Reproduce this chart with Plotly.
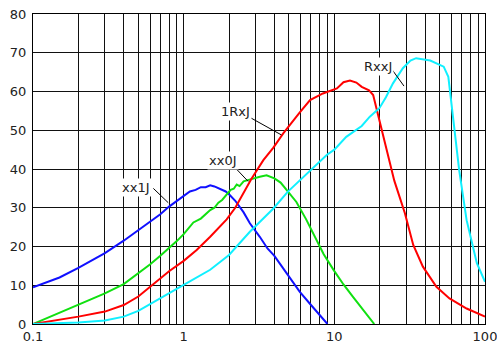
import plotly.graph_objects as go
import math

# ---- data ----
blue_x = [0.1, 0.15, 0.2, 0.3, 0.4, 0.5, 0.6, 0.7, 0.8, 0.9, 1.0, 1.1, 1.2, 1.3, 1.4, 1.5, 1.6, 1.7, 1.9, 2.0, 2.2, 2.5, 2.75, 3.2, 3.6, 4.0, 4.8, 5.9, 7.0, 8.0, 9.0]
blue_y = [9.5, 12.0, 14.5, 18.3, 21.5, 24.3, 26.4, 28.3, 30.3, 31.8, 33.2, 34.2, 34.6, 35.3, 35.3, 35.8, 35.5, 35.0, 34.2, 33.5, 31.8, 28.8, 26.0, 22.5, 19.5, 17.6, 13.1, 8.3, 4.9, 2.3, 0.0]

green_x = [0.1, 0.2, 0.3, 0.4, 0.5, 0.6, 0.7, 0.8, 0.9, 1.0, 1.16, 1.3, 1.4, 1.5, 1.6, 1.7, 1.8, 1.93, 2.05, 2.15, 2.25, 2.35, 2.5, 2.7, 3.0, 3.2, 3.55, 4.0, 4.4, 4.9, 5.6, 6.5, 7.2, 8.5, 9.9, 11.5, 13.3, 15.5, 18.4]
green_y = [0.0, 4.9, 7.9, 10.3, 13.1, 15.4, 17.6, 19.6, 21.4, 23.2, 26.2, 27.2, 28.4, 29.4, 30.0, 31.3, 32.0, 33.3, 34.6, 34.9, 36.0, 35.6, 36.8, 37.2, 37.8, 38.0, 38.4, 37.6, 36.5, 34.3, 31.5, 27.0, 23.4, 18.0, 13.9, 10.2, 7.0, 3.8, 0.0]

red_x = [0.1, 0.15, 0.2, 0.3, 0.4, 0.5, 0.6, 0.7, 0.8, 1.0, 1.22, 1.5, 1.93, 2.2, 2.5, 2.8, 3.38, 3.94, 4.58, 5.2, 5.9, 6.9, 8.4, 10.4, 11.5, 12.7, 14.0, 15.2, 17.0, 18.1, 18.9, 19.9, 21.5, 23.2, 25.0, 27.0, 29.4, 33.4, 38.7, 47.6, 58.1, 75.5, 100.0]
red_y = [0.0, 1.0, 1.9, 3.2, 4.9, 7.1, 9.6, 11.8, 13.6, 16.3, 19.1, 22.5, 27.0, 30.0, 33.7, 37.3, 42.3, 45.5, 49.2, 52.0, 54.6, 57.8, 59.5, 60.8, 62.4, 62.8, 62.3, 61.2, 60.3, 59.1, 56.1, 52.6, 47.0, 42.3, 37.0, 33.0, 28.6, 20.4, 14.8, 9.6, 6.6, 4.0, 1.9]

cyan_x = [0.1, 0.2, 0.3, 0.4, 0.5, 0.6, 0.7, 0.85, 1.0, 1.5, 2.0, 2.75, 3.94, 4.9, 6.1, 7.0, 8.9, 10.0, 11.5, 12.0, 15.2, 17.2, 19.9, 22.0, 24.5, 28.5, 32.0, 34.9, 43.3, 53.2, 57.1, 60.2, 63.0, 67.4, 75.5, 88.3, 100.0]
cyan_y = [0.0, 0.4, 0.9, 1.9, 3.4, 5.2, 6.8, 8.6, 10.1, 14.0, 17.8, 23.8, 29.8, 34.1, 37.5, 39.7, 43.6, 45.0, 47.5, 48.3, 51.1, 53.5, 55.7, 58.5, 62.1, 66.0, 68.0, 68.6, 68.0, 66.4, 63.8, 56.1, 48.0, 39.7, 26.8, 15.7, 10.9]

series_names = ["xx1J", "xx0J", "1RxJ", "RxxJ"]
series_colors = ["#1010ff", "#10e010", "#ff0000", "#10f0ff"]

# label text centre and leader line ends (data units)
label_x = [0.483, 1.83, 2.2, 19.5]
label_y = [35.2, 42.1, 54.8, 66.5]
leader_start_x = [0.629, 2.0, 2.4, 23.0]
leader_start_y = [35.0, 42.0, 54.6, 66.8]
leader_end_x = [0.79, 2.68, 4.45, 29.0]
leader_end_y = [31.3, 36.8, 48.8, 61.4]

x_ticks = [m * 10 ** e for e in (-1, 0, 1) for m in range(1, 10)] + [100]
x_ticktext = [("0.1" if v == 0.1 else ("1" if v == 1 else ("10" if v == 10 else ""))) for v in x_ticks[:-1]] + ["100"]
y_ticks = list(range(0, 90, 10))

fig = go.Figure()
xs = [blue_x, green_x, red_x, cyan_x]
ys = [blue_y, green_y, red_y, cyan_y]
for x, y, n, c in zip(xs, ys, series_names, series_colors):
    fig.add_trace(go.Scatter(x=x, y=y, name=n, mode="lines",
                             line=dict(color=c, width=2), showlegend=False))

for i, n in enumerate(series_names):
    fig.add_trace(go.Scatter(x=[leader_start_x[i], leader_end_x[i]],
                             y=[leader_start_y[i], leader_end_y[i]],
                             mode="lines", line=dict(color="black", width=1),
                             showlegend=False, hoverinfo="skip"))
    fig.add_annotation(x=math.log10(label_x[i]), y=label_y[i], text=n,
                       showarrow=False, bgcolor="white",
                       font=dict(family="DejaVu Sans", size=13, color="#222"),
                       borderpad=1)

fig.update_xaxes(type="log", range=[-1, 2], tickvals=x_ticks, ticktext=x_ticktext,
                 showgrid=True, gridcolor="#111", gridwidth=1,
                 showline=True, linecolor="black", linewidth=1, mirror=True,
                 ticks="", ticklen=0, zeroline=False, automargin=False,
                 ticklabeloverflow="allow",
                 tickfont=dict(family="DejaVu Sans", size=13, color="#222"))
fig.update_yaxes(range=[0, 80], tickvals=y_ticks,
                 showgrid=True, gridcolor="#111", gridwidth=1,
                 showline=True, linecolor="black", linewidth=1, mirror=True,
                 ticks="", ticklen=0, zeroline=False, automargin=False,
                 ticklabeloverflow="allow", ticklabelstandoff=3,
                 tickfont=dict(family="DejaVu Sans", size=13, color="#222"))

fig.update_layout(width=497, height=345,
                  margin=dict(l=33, r=12, t=14, b=21),
                  plot_bgcolor="white", paper_bgcolor="white")

# remove the browser's default body margin so the figure fills the window
fig.write_html("out.html", config={"displayModeBar": False},
               post_script="document.body.style.margin='0';document.body.style.overflow='hidden';")
